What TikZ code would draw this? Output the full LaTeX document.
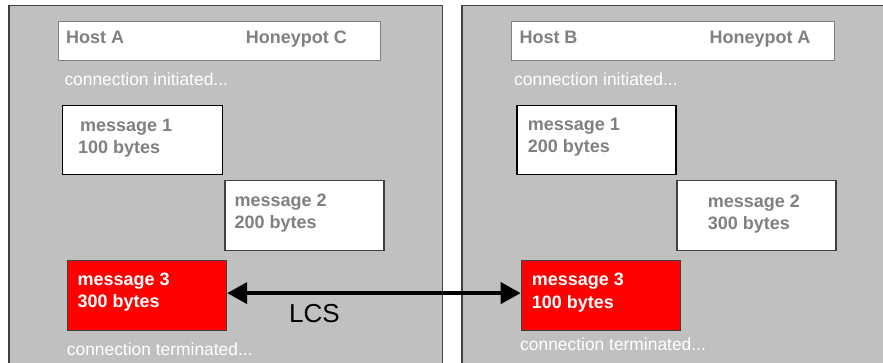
\documentclass[tikz,border=0pt]{standalone}
\usepackage{fontspec}
\setmainfont{Liberation Sans}
\usetikzlibrary{arrows.meta}
\definecolor{panelgray}{HTML}{C0C0C0}
\definecolor{txtgray}{HTML}{808080}
\definecolor{edgedark}{HTML}{404040}
\definecolor{boxred}{HTML}{FF0000}
\tikzset{
  panel/.style={draw=edgedark, line width=1.5pt, fill=panelgray, anchor=north west, inner sep=0pt},
  header/.style={draw=txtgray, line width=1.2pt, fill=white, anchor=north west, inner sep=0pt},
  msgbox/.style={draw=black, line width=1.5pt, fill=white, anchor=north west, inner sep=0pt},
  redbox/.style={draw=edgedark, line width=1.2pt, fill=boxred, anchor=north west, inner sep=0pt},
  lbl/.style={anchor=base west, inner sep=0pt, text=txtgray, font=\fontsize{18}{21}\selectfont\bfseries},
  wlbl/.style={anchor=base west, inner sep=0pt, text=white, font=\fontsize{18}{21}\selectfont\bfseries},
  conn/.style={anchor=base west, inner sep=0pt, text=white, font=\fontsize{17.4}{20}\selectfont},
  lcsarrow/.style={line width=4pt, {Triangle[length=20pt,width=21pt]}-{Triangle[length=20pt,width=21pt]}}
}
\begin{document}
\begin{tikzpicture}[x=1pt,y=-1pt]
\clip (0,0) rectangle (883,363);
\fill[white] (0,0) rectangle (883,363);
% panels
\node[panel, minimum width=433.5pt, minimum height=380pt] (pa) at (8,5) {};
\node[panel, minimum width=440pt, minimum height=380pt] (pb) at (461,5) {};
% left panel
\node[header, minimum width=322.3pt, minimum height=39.3pt] (ha) at (57.7,20.7) {};
\node[lbl] (ha1) at (66,44) {Host A};
\node[lbl] (ha2) at (245.7,44) {Honeypot C};
\node[conn] (cia) at (64.3,86) {connection initiated...};
\node[msgbox, minimum width=160pt, minimum height=69pt] (m1a) at (61.7,105) {};
\node[lbl] (t1a) at (80,132) {message 1};
\node[lbl] (u1a) at (78,154) {100 bytes};
\node[msgbox, draw=edgedark, minimum width=159pt, minimum height=70pt] (m2a) at (224,180) {};
\node[lbl] (t2a) at (234.3,207) {message 2};
\node[lbl] (u2a) at (234.3,229) {200 bytes};
\node[redbox, minimum width=159.3pt, minimum height=70pt] (m3a) at (66.7,260) {};
\node[wlbl] (t3a) at (77.3,285) {message 3};
\node[wlbl] (u3a) at (77.3,307) {300 bytes};
\node[conn] (cta) at (66.7,355) {connection terminated...};
% right panel
\node[header, minimum width=323pt, minimum height=39.3pt] (hb) at (511,20.7) {};
\node[lbl] (hb1) at (519.3,44) {Host B};
\node[lbl] (hb2) at (709.3,44) {Honeypot A};
\node[conn] (cib) at (514,86) {connection initiated...};
\node[msgbox, minimum width=159pt, minimum height=69pt] (m1b) at (516,105) {};
\node[lbl] (t1b) at (527.7,131) {message 1};
\node[lbl] (u1b) at (527.7,153) {200 bytes};
\node[msgbox, draw=edgedark, minimum width=159pt, minimum height=70pt] (m2b) at (676,180) {};
\node[lbl] (t2b) at (707.7,208) {message 2};
\node[lbl] (u2b) at (707.7,230) {300 bytes};
\node[redbox, minimum width=159.3pt, minimum height=70pt] (m3b) at (520.7,260) {};
\node[wlbl] (t3b) at (531.7,286) {message 3};
\node[wlbl] (u3b) at (531.7,308) {100 bytes};
\node[conn] (ctb) at (520,350) {connection terminated...};
% LCS connector
\draw[lcsarrow] ([yshift=2.5pt]m3a.east) -- ([yshift=2.5pt]m3b.west);
\node[anchor=base west, inner sep=0pt, font=\fontsize{26}{30}\selectfont] (lcs) at (289,322) {LCS};
\end{tikzpicture}
\end{document}
